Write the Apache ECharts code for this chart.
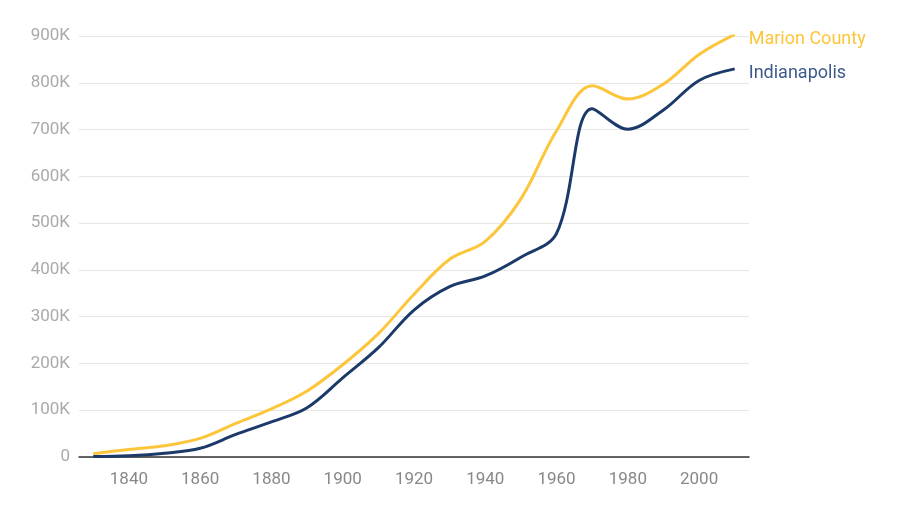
<!DOCTYPE html>
<html><head><meta charset="utf-8">
<script src="https://cdn.jsdelivr.net/npm/echarts@6/dist/echarts.min.js"></script>
<style>html,body{margin:0;padding:0;background:#fff}#c{width:915px;height:519px}</style>
</head><body><div id="c"></div>
<script>
const years = [1830,1840,1850,1860,1870,1880,1890,1900,1910,1920,1930,1940,1950,1960,1970,1980,1990,2000,2010];
const marionCounty = [7192,16080,24103,39855,71939,102782,141156,197227,263661,348061,422666,460926,551777,697567,793769,765233,797159,860454,903393];
const indianapolis = [1085,2695,8091,18611,48244,75056,105436,169164,233650,314194,364161,386972,427173,478000,744624,700807,741952,805000,829718];
const xTicks = [1840,1860,1880,1900,1920,1940,1960,1980,2000];
const seriesNames = ['Marion County','Indianapolis'];

const chart = echarts.init(document.getElementById('c'));
const pair = (arr) => years.map((y,i)=>[y,arr[i]]);
chart.setOption({
  animation:false,
  grid:{left:79,right:166,top:36,bottom:62,containLabel:false},
  xAxis:{type:'value',min:1826,max:2014,
    axisLine:{lineStyle:{color:'#333',width:1.5}},
    axisTick:{show:false},
    splitLine:{show:false},
    axisLabel:{customValues:xTicks,color:'#888',fontSize:17,fontFamily:'Roboto',margin:14,
      formatter:v=>String(v)}},
  yAxis:{type:'value',min:0,max:900000,interval:100000,
    axisLine:{show:false},axisTick:{show:false},
    splitLine:{lineStyle:{color:'#e6e6e6',width:1}},
    axisLabel:{color:'#aaa',fontSize:17,fontFamily:'Roboto',margin:9,
      formatter:v=>v===0?'0':(v/1000)+'K'}},
  series:[
    {name:seriesNames[0],type:'line',smooth:0.35,symbol:'none',data:pair(marionCounty),
     lineStyle:{color:'#fcc53a',width:3},itemStyle:{color:'#fcc53a'},
     endLabel:{show:true,formatter:'{a}',color:'#fcc53a',fontSize:18,fontFamily:'Roboto',distance:14,offset:[0,5]}},
    {name:seriesNames[1],type:'line',smooth:0.35,symbol:'none',data:pair(indianapolis),
     lineStyle:{color:'#1c3a69',width:3},itemStyle:{color:'#1c3a69'},
     endLabel:{show:true,formatter:'{a}',color:'#3e5a8c',fontSize:18,fontFamily:'Roboto',distance:14,offset:[0,5]}}
  ]
});
</script></body></html>
